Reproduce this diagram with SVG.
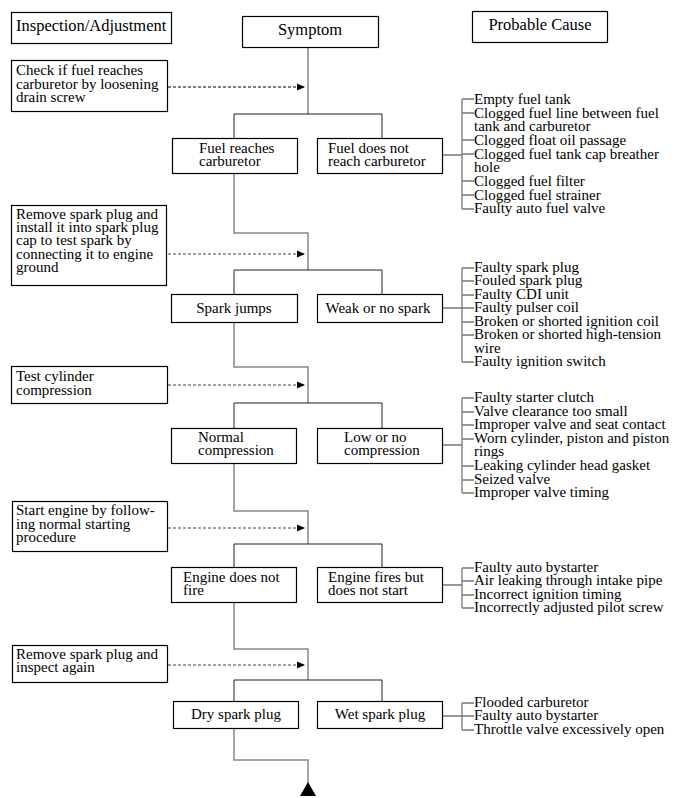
<svg xmlns="http://www.w3.org/2000/svg" width="681" height="798" viewBox="0 0 681 798">
<defs>
<style>
text{font-family:"Liberation Serif","Times New Roman",serif;font-size:15px;fill:#000}
.h{font-size:16.5px}
.box{fill:#fff;stroke:#000;stroke-width:1.2}
.c{text-anchor:middle}
.tr{fill:none;stroke:#888;stroke-width:1.5}
.tee{fill:none;stroke:#222;stroke-width:1}
.br{fill:none;stroke:#777;stroke-width:1.3}
.dash{fill:none;stroke:#444;stroke-width:1;stroke-dasharray:3,2}
</style>
<marker id="ah" markerWidth="8" markerHeight="8" refX="7" refY="4" orient="auto" markerUnits="userSpaceOnUse">
<path d="M0,0.5 L8,4 L0,7.5 Z" fill="#000"/>
</marker>
</defs>
<rect width="681" height="798" fill="#fff"/>

<g id="connectors">
<path class="tr" d="M308,47 V114"/>
<path class="tee" d="M234,138 V114 H382 V138"/>
<path class="tr" d="M234,173 V233 H308 V270"/>
<path class="tee" d="M234,294 V270 H382 V294"/>
<path class="tr" d="M234,322 V367 H308 V403"/>
<path class="tee" d="M234,428 V403 H382 V428"/>
<path class="tr" d="M234,463 V511 H308 V544"/>
<path class="tee" d="M234,567 V544 H382 V567"/>
<path class="tr" d="M234,602 V649 H308 V680"/>
<path class="tee" d="M234,701 V680 H382 V701"/>
<path class="tr" d="M234,728 V760 H308 V785"/>
<path d="M300,796 L308,782 L316,796 Z" fill="#000"/>
<path class="dash" style="stroke:#000" d="M168,87 H304" marker-end="url(#ah)"/>
<path class="dash" d="M168,254 H304" marker-end="url(#ah)"/>
<path class="dash" d="M168,385 H304" marker-end="url(#ah)"/>
<path class="dash" d="M168,528 H304" marker-end="url(#ah)"/>
<path class="dash" d="M168,665 H304" marker-end="url(#ah)"/>
<path class="br" d="M442,155 H462 M462,99 V209 M462,99 H474 M462,113 H474 M462,140 H474 M462,154 H474 M462,181 H474 M462,195 H474 M462,209 H474"/>
<path class="br" d="M442,308 H462 M462,268 V362 M462,268 H474 M462,281 H474 M462,295 H474 M462,308 H474 M462,322 H474 M462,335 H474 M462,362 H474"/>
<path class="br" d="M442,445 H462 M462,398 V493 M462,398 H474 M462,412 H474 M462,425 H474 M462,439 H474 M462,466 H474 M462,480 H474 M462,493 H474"/>
<path class="br" d="M442,585 H462 M462,568 V608 M462,568 H474 M462,581 H474 M462,595 H474 M462,608 H474"/>
<path class="br" d="M442,716 H462 M462,703 V730 M462,703 H474 M462,716 H474 M462,730 H474"/>
</g>

<g id="hdr-inspection"><rect class="box" x="11.5" y="12.5" width="160" height="31"/><text class="h" x="16" y="31">Inspection/Adjustment</text></g>
<g id="hdr-symptom"><rect class="box" x="242.5" y="16.5" width="136" height="31"/><text class="h c" x="310" y="35">Symptom</text></g>
<g id="hdr-cause"><rect class="box" x="472.5" y="11.5" width="135" height="31"/><text class="h c" x="540" y="30">Probable Cause</text></g>

<g id="step1"><rect class="box" x="11.5" y="60.5" width="156" height="51"/><text x="16" y="75">Check if fuel reaches</text><text x="16" y="89">carburetor by loosening</text><text x="16" y="102">drain screw</text></g>
<g id="fuel-yes"><rect class="box" x="172.5" y="138.5" width="125" height="35"/><text x="199" y="153">Fuel reaches</text><text x="199" y="166">carburetor</text></g>
<g id="fuel-no"><rect class="box" x="317.5" y="138.5" width="125" height="35"/><text x="328" y="153">Fuel does not</text><text x="328" y="166">reach carburetor</text></g>
<g id="causes1"><text x="474" y="104">Empty fuel tank</text><text x="474" y="118">Clogged fuel line between fuel</text><text x="474" y="131">tank and carburetor</text><text x="474" y="145">Clogged float oil passage</text><text x="474" y="159">Clogged fuel tank cap breather</text><text x="474" y="172">hole</text><text x="474" y="186">Clogged fuel filter</text><text x="474" y="200">Clogged fuel strainer</text><text x="474" y="213">Faulty auto fuel valve</text></g>

<g id="step2"><rect class="box" x="11.5" y="205.5" width="155" height="80"/><text x="16" y="219">Remove spark plug and</text><text x="16" y="232">install it into spark plug</text><text x="16" y="245">cap to test spark by</text><text x="16" y="259">connecting it to engine</text><text x="16" y="272">ground</text></g>
<g id="spark-yes"><rect class="box" x="171.5" y="294.5" width="126" height="28"/><text class="c" x="234" y="313">Spark jumps</text></g>
<g id="spark-no"><rect class="box" x="317.5" y="294.5" width="125" height="28"/><text class="c" x="378" y="313">Weak or no spark</text></g>
<g id="causes2"><text x="474" y="272">Faulty spark plug</text><text x="474" y="285">Fouled spark plug</text><text x="474" y="299">Faulty CDI unit</text><text x="474" y="312">Faulty pulser coil</text><text x="474" y="326">Broken or shorted ignition coil</text><text x="474" y="339">Broken or shorted high-tension</text><text x="474" y="353">wire</text><text x="474" y="366">Faulty ignition switch</text></g>

<g id="step3"><rect class="box" x="11.5" y="366.5" width="156" height="37"/><text x="16" y="381">Test cylinder</text><text x="16" y="395">compression</text></g>
<g id="comp-yes"><rect class="box" x="171.5" y="428.5" width="125" height="35"/><text x="198" y="442">Normal</text><text x="198" y="455">compression</text></g>
<g id="comp-no"><rect class="box" x="317.5" y="428.5" width="125" height="35"/><text x="344" y="442">Low or no</text><text x="344" y="455">compression</text></g>
<g id="causes3"><text x="474" y="402">Faulty starter clutch</text><text x="474" y="416">Valve clearance too small</text><text x="474" y="429">Improper valve and seat contact</text><text x="474" y="443">Worn cylinder, piston and piston</text><text x="474" y="456">rings</text><text x="474" y="470">Leaking cylinder head gasket</text><text x="474" y="484">Seized valve</text><text x="474" y="497">Improper valve timing</text></g>

<g id="step4"><rect class="box" x="12.5" y="501.5" width="155" height="50"/><text x="16" y="515">Start engine by follow-</text><text x="16" y="529">ing normal starting</text><text x="16" y="542">procedure</text></g>
<g id="fire-no"><rect class="box" x="171.5" y="567.5" width="125" height="35"/><text x="183" y="582">Engine does not</text><text x="183" y="595">fire</text></g>
<g id="fire-yes"><rect class="box" x="317.5" y="567.5" width="125" height="35"/><text x="328" y="582">Engine fires but</text><text x="328" y="595">does not start</text></g>
<g id="causes4"><text x="474" y="572">Faulty auto bystarter</text><text x="474" y="585">Air leaking through intake pipe</text><text x="474" y="599">Incorrect ignition timing</text><text x="474" y="612">Incorrectly adjusted pilot screw</text></g>

<g id="step5"><rect class="box" x="12.5" y="645.5" width="155" height="37"/><text x="16" y="659">Remove spark plug and</text><text x="16" y="672">inspect again</text></g>
<g id="plug-dry"><rect class="box" x="173.5" y="701.5" width="125" height="27"/><text class="c" x="236" y="719">Dry spark plug</text></g>
<g id="plug-wet"><rect class="box" x="317.5" y="701.5" width="125" height="27"/><text class="c" x="380" y="719">Wet spark plug</text></g>
<g id="causes5"><text x="474" y="707">Flooded carburetor</text><text x="474" y="720">Faulty auto bystarter</text><text x="474" y="734">Throttle valve excessively open</text></g>
</svg>
